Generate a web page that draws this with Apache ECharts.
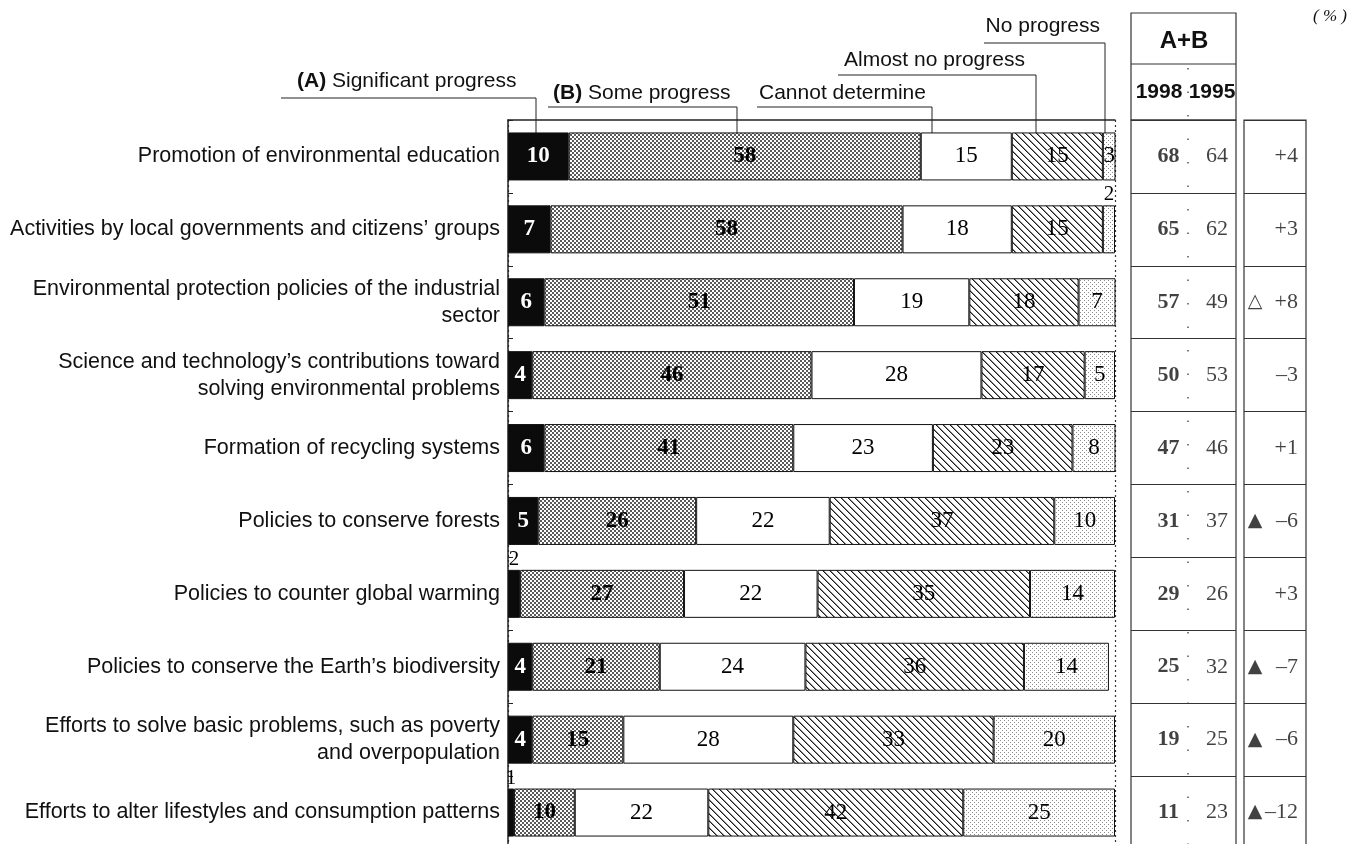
<!DOCTYPE html>
<html>
<head>
<meta charset="utf-8">
<script src="https://cdn.jsdelivr.net/npm/echarts@6/dist/echarts.min.js"></script>
<style>
  html, body { margin: 0; background: #fff; }
  #chart { width: 1350px; height: 844px; }
</style>
</head>
<body>
<div id="chart"></div>
<script>
// categories, top to bottom
const categories = [
  'Promotion of environmental education',
  'Activities by local governments and citizens\u2019 groups',
  'Environmental protection policies of the industrial\nsector',
  'Science and technology\u2019s contributions toward\nsolving environmental problems',
  'Formation of recycling systems',
  'Policies to conserve forests',
  'Policies to counter global warming',
  'Policies to conserve the Earth\u2019s biodiversity',
  'Efforts to solve basic problems, such as poverty\nand overpopulation',
  'Efforts to alter lifestyles and consumption patterns'
];
const significant = [10, 7, 6, 4, 6, 5, 2, 4, 4, 1];
const someProgress = [58, 58, 51, 46, 41, 26, 27, 21, 15, 10];
const cannotDetermine = [15, 18, 19, 28, 23, 22, 22, 24, 28, 22];
const almostNone = [15, 15, 18, 17, 23, 37, 35, 36, 33, 42];
const noProgress = [3, 2, 7, 5, 8, 10, 14, 14, 20, 25];

// A+B table
const ab1998 = [68, 65, 57, 50, 47, 31, 29, 25, 19, 11];
const ab1995 = [64, 62, 49, 53, 46, 37, 26, 32, 25, 23];
const change = [4, 3, 8, -3, 1, -6, 3, -7, -6, -12];
const changeMark = ['', '', '\u25B3', '', '', '\u25B2', '', '\u25B2', '\u25B2', '\u25B2'];

const SERIF = '"Liberation Serif", "DejaVu Serif", serif';
const SANS = '"Liberation Sans", Arial, sans-serif';

function makePattern(size, draw) {
  const c = document.createElement('canvas');
  c.width = size; c.height = size;
  const g = c.getContext('2d');
  g.fillStyle = '#fff';
  g.fillRect(0, 0, size, size);
  draw(g);
  return { image: c, repeat: 'repeat' };
}
const densePattern = makePattern(4, g => {
  g.fillStyle = '#5a5a5a';
  g.fillRect(0, 0, 2, 2);
  g.fillRect(2, 2, 2, 2);
});
const lightPattern = makePattern(4, g => {
  g.fillStyle = '#8a8a8a';
  g.fillRect(0, 0, 1, 1);
  g.fillRect(2, 2, 1, 1);
});
const hatchPattern = makePattern(7, g => {
  for (let i = 0; i < 7; i++) {
    g.fillStyle = '#1a1a1a';
    g.fillRect(i, i, 1, 1);
    g.fillStyle = '#8a8a8a';
    g.fillRect((i + 1) % 7, i, 1, 1);
  }
});

const segments = [
  { name: 'Significant progress', data: significant, fill: '#0b0b0b', text: '#fff', weight: 'bold' },
  { name: 'Some progress', data: someProgress, fill: densePattern, text: '#000', weight: 'bold' },
  { name: 'Cannot determine', data: cannotDetermine, fill: '#fff', text: '#000', weight: 'normal' },
  { name: 'Almost no progress', data: almostNone, fill: hatchPattern, text: '#000', weight: 'normal' },
  { name: 'No progress', data: noProgress, fill: lightPattern, text: '#000', weight: 'normal' }
];

const barSeries = segments.map(s => ({
  type: 'bar',
  name: s.name,
  stack: 'total',
  barWidth: 48,
  xAxisIndex: 0,
  yAxisIndex: 0,
  itemStyle: { color: s.fill, borderColor: '#111', borderWidth: 1 },
  label: {
    show: true,
    position: 'inside',
    fontFamily: SERIF,
    fontSize: 23,
    fontWeight: s.weight,
    color: s.text
  },
  data: s.data.map(v => v <= 2
    ? { value: v, label: { position: 'top', distance: 0, color: '#000', fontWeight: 'normal', fontSize: 21 } }
    : v)
}));

function textScatter(xIdx, yIdx, xPos, values, fmt, label) {
  return {
    type: 'scatter',
    xAxisIndex: xIdx,
    yAxisIndex: yIdx,
    symbolSize: 1,
    itemStyle: { color: 'rgba(0,0,0,0)' },
    silent: true,
    label: Object.assign({
      show: true,
      position: 'inside',
      fontFamily: SERIF,
      fontSize: 22,
      color: '#111',
      formatter: p => fmt(p.value[2])
    }, label),
    data: values.map((v, i) => [xPos, i, v])
  };
}

const tableSeries = [
  textScatter(1, 1, 0.714, ab1998, v => String(v), { fontWeight: 'bold' }),
  textScatter(1, 1, 1.638, ab1995, v => String(v), {}),
  textScatter(2, 2, 0.06, changeMark, v => v, { align: 'left', fontFamily: '"DejaVu Sans", sans-serif', fontSize: 19 }),
  textScatter(2, 2, 0.87, change, v => (v > 0 ? '+' : '\u2013') + Math.abs(v), { align: 'right' })
];

const hiddenCat = (gi) => ({
  type: 'category',
  gridIndex: gi,
  data: categories,
  inverse: true,
  axisLine: { show: false },
  axisTick: { show: false },
  axisLabel: { show: false },
  splitLine: { show: true, lineStyle: { color: '#333', width: 1 } }
});
const hiddenVal = (gi, max) => ({
  type: 'value', gridIndex: gi, min: 0, max: max, show: false
});

function leader(points) {
  return { type: 'polyline', shape: { points: points }, style: { stroke: '#222', lineWidth: 1, fill: null }, silent: true };
}
function label(x, y, text, align) {
  return {
    type: 'text', x: x, y: y,
    style: {
      text: text, fontFamily: SANS, fontSize: 21, fill: '#111',
      align: align || 'left', verticalAlign: 'middle',
      rich: { b: { fontWeight: 'bold', fontFamily: SANS, fontSize: 21 } }
    },
    silent: true
  };
}

const chart = echarts.init(document.getElementById('chart'));
chart.setOption({
  animation: false,
  backgroundColor: '#fff',
  grid: [
    { left: 508, width: 607, top: 120, bottom: -5, outerBoundsMode: 'none' },
    { left: 1131, width: 105, top: 120, bottom: -5, outerBoundsMode: 'none', show: true, borderColor: '#333', borderWidth: 1.2 },
    { left: 1244, width: 62, top: 120, bottom: -5, outerBoundsMode: 'none', show: true, borderColor: '#333', borderWidth: 1.2 }
  ],
  xAxis: [
    {
      type: 'value', gridIndex: 0, position: 'top', min: 0, max: 100, interval: 100,
      axisLine: { show: true, lineStyle: { color: '#222', width: 1.5 } },
      axisTick: { show: false },
      axisLabel: { show: false },
      splitLine: { show: true, lineStyle: { color: '#333', type: [2, 3], width: 1.2 } }
    },
    hiddenVal(1, 2),
    hiddenVal(2, 1)
  ],
  yAxis: [
    {
      type: 'category', gridIndex: 0, data: categories, inverse: true,
      axisLine: { show: true, lineStyle: { color: '#222', width: 1.5 } },
      axisTick: { show: true, inside: true, length: 5, lineStyle: { color: '#222' } },
      axisLabel: { fontFamily: SANS, fontSize: 21.5, color: '#111', margin: 8, lineHeight: 27, align: 'right' }
    },
    hiddenCat(1),
    hiddenCat(2)
  ],
  series: barSeries.concat(tableSeries),
  graphic: [
    leader([[984, 43], [1105, 43], [1105, 133]]),
    leader([[838, 75], [1036, 75], [1036, 133]]),
    leader([[281, 98], [536, 98], [536, 133]]),
    leader([[548, 107], [737, 107], [737, 133]]),
    leader([[757, 107], [932, 107], [932, 133]]),
    label(1100, 26, 'No progress', 'right'),
    label(844, 60, 'Almost no progress'),
    label(297, 81, '{b|(A)} Significant progress'),
    label(553, 93, '{b|(B)} Some progress'),
    label(759, 93, 'Cannot determine'),
    // A+B header
    { type: 'rect', shape: { x: 1131, y: 13, width: 105, height: 107 }, style: { fill: null, stroke: '#333', lineWidth: 1.2 }, silent: true },
    { type: 'line', shape: { x1: 1131, y1: 64, x2: 1236, y2: 64 }, style: { stroke: '#333', lineWidth: 1 }, silent: true },
    { type: 'line', shape: { x1: 1188, y1: 68, x2: 1188, y2: 844 }, style: { stroke: '#555', lineWidth: 1.5, lineDash: [1.5, 22] }, silent: true },
    { type: 'text', x: 1184, y: 41, style: { text: 'A+B', fontFamily: SANS, fontWeight: 'bold', fontSize: 24, fill: '#111', align: 'center', verticalAlign: 'middle' }, silent: true },
    { type: 'text', x: 1159, y: 92, style: { text: '1998', fontFamily: SANS, fontWeight: 'bold', fontSize: 21, fill: '#111', align: 'center', verticalAlign: 'middle' }, silent: true },
    { type: 'text', x: 1212, y: 92, style: { text: '1995', fontFamily: SANS, fontWeight: 'bold', fontSize: 21, fill: '#111', align: 'center', verticalAlign: 'middle' }, silent: true },
    { type: 'text', x: 1330, y: 17, style: { text: '( % )', fontFamily: SERIF, fontStyle: 'italic', fontSize: 17, fill: '#111', align: 'center', verticalAlign: 'middle' }, silent: true }
  ]
});
</script>
</body>
</html>
